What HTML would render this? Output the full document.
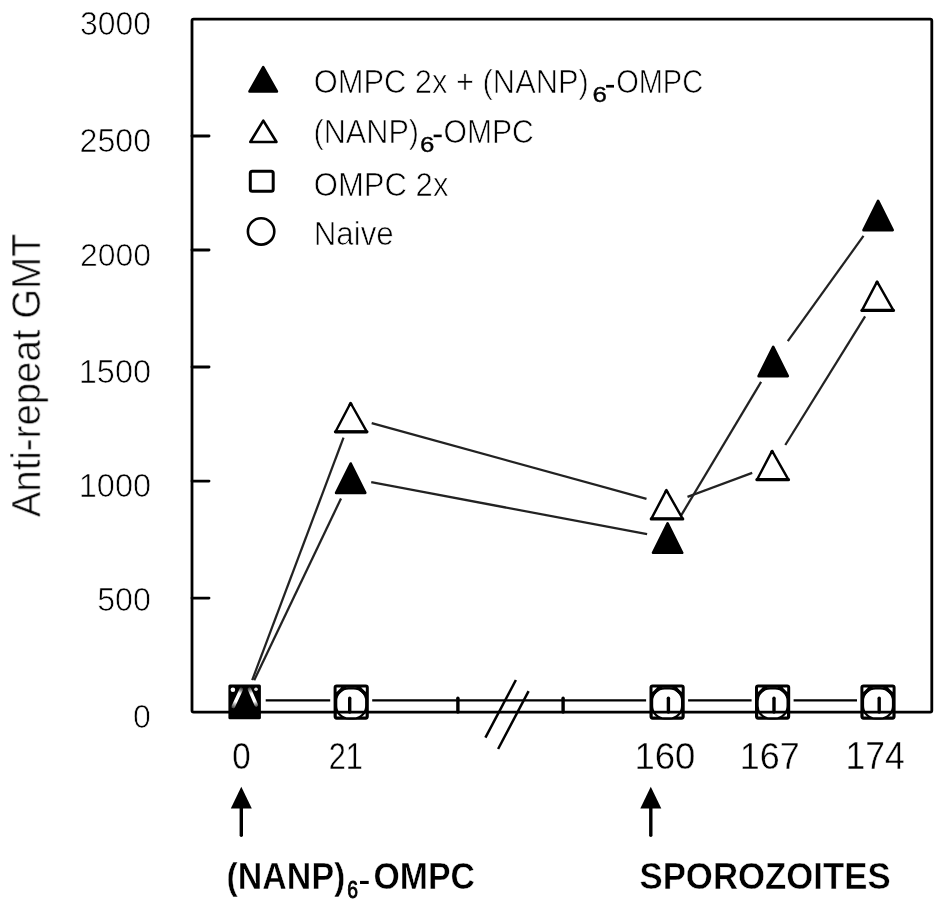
<!DOCTYPE html>
<html><head><meta charset="utf-8"><title>Anti-repeat GMT</title>
<style>html,body{margin:0;padding:0;background:#fff;}body{width:945px;height:910px;overflow:hidden;font-family:"Liberation Sans",sans-serif;}svg{display:block;}</style>
</head><body><svg width="945" height="910" viewBox="0 0 945 910" font-family="Liberation Sans, sans-serif"><defs><filter id="bl" x="-50%" y="-50%" width="200%" height="200%"><feGaussianBlur stdDeviation="0.5"/></filter><filter id="soft" x="0" y="0" width="945" height="910" filterUnits="userSpaceOnUse"><feGaussianBlur stdDeviation="0.45"/></filter></defs><rect width="945" height="910" fill="#fff"/><g filter="url(#soft)"><g stroke="#000" stroke-width="2.25" stroke-linecap="butt" fill="none"><line x1="254.2" y1="680.2" x2="341.0" y2="498.5" stroke="#222"/><line x1="371.2" y1="482.1" x2="647.1" y2="534.2" stroke="#222"/><line x1="679.7" y1="517.8" x2="761.1" y2="381.8" stroke="#222"/><line x1="787.8" y1="341.2" x2="863.5" y2="235.8" stroke="#222"/><line x1="252.2" y1="680.2" x2="343.5" y2="437.7" stroke="#222"/><line x1="371.7" y1="423.1" x2="646.5" y2="498.8" stroke="#222"/><line x1="687.5" y1="496.9" x2="752.2" y2="472.9" stroke="#222"/><line x1="785.3" y1="445.0" x2="865.1" y2="316.3" stroke="#222"/><line x1="265.7" y1="700.4" x2="330.2" y2="700.4"/><line x1="372.2" y1="700.4" x2="646.1" y2="700.4"/><line x1="688.1" y1="700.4" x2="751.6" y2="700.4"/><line x1="793.6" y1="700.4" x2="857.0" y2="700.4"/></g><rect x="335.2" y="686.1" width="32.0" height="32.0" rx="1.5" fill="#fff" stroke="#000" stroke-width="3.2"/><rect x="336.2" y="688.4" width="30.0" height="30.0" rx="12.5" fill="#fff" stroke="#000" stroke-width="2.2"/><path d="M336.0 686.9h10.5l-10.5 10.5Z M366.4 686.9h-10.5l10.5 10.5Z" fill="#000"/><path d="M336.6 687.5h4.6l-4.6 4.6Z M365.8 687.5h-4.6l4.6 4.6Z" fill="#fff" filter="url(#bl)"/><rect x="651.1" y="686.1" width="32.0" height="32.0" rx="1.5" fill="#fff" stroke="#000" stroke-width="3.2"/><rect x="652.1" y="688.4" width="30.0" height="30.0" rx="12.5" fill="#fff" stroke="#000" stroke-width="2.2"/><path d="M651.9 686.9h10.5l-10.5 10.5Z M682.3 686.9h-10.5l10.5 10.5Z" fill="#000"/><path d="M652.5 687.5h4.6l-4.6 4.6Z M681.7 687.5h-4.6l4.6 4.6Z" fill="#fff" filter="url(#bl)"/><rect x="756.6" y="686.1" width="32.0" height="32.0" rx="1.5" fill="#fff" stroke="#000" stroke-width="3.2"/><rect x="757.6" y="688.4" width="30.0" height="30.0" rx="12.5" fill="#fff" stroke="#000" stroke-width="2.2"/><path d="M757.4 686.9h10.5l-10.5 10.5Z M787.8 686.9h-10.5l10.5 10.5Z" fill="#000"/><path d="M758.0 687.5h4.6l-4.6 4.6Z M787.2 687.5h-4.6l4.6 4.6Z" fill="#fff" filter="url(#bl)"/><rect x="862.0" y="686.1" width="32.0" height="32.0" rx="1.5" fill="#fff" stroke="#000" stroke-width="3.2"/><rect x="863.0" y="688.4" width="30.0" height="30.0" rx="12.5" fill="#fff" stroke="#000" stroke-width="2.2"/><path d="M862.8 686.9h10.5l-10.5 10.5Z M893.2 686.9h-10.5l10.5 10.5Z" fill="#000"/><path d="M863.4 687.5h4.6l-4.6 4.6Z M892.6 687.5h-4.6l4.6 4.6Z" fill="#fff" filter="url(#bl)"/><path d="M350.6 403.0L366.9 431.8L335.5 431.8Z" fill="#fff" stroke="#000" stroke-width="2.4" stroke-linejoin="round"/><line x1="335.5" y1="431.8" x2="366.9" y2="431.8" stroke="#000" stroke-width="3.3" stroke-linecap="round"/><circle cx="350.6" cy="404.2" r="1.9" fill="#000"/><path d="M350.7 463.5L365.3 492.9L336.1 492.9Z" fill="#000" stroke="#000" stroke-width="2.6" stroke-linejoin="round"/><path d="M666.4 490.1L682.7 518.9L651.3 518.9Z" fill="#fff" stroke="#000" stroke-width="2.4" stroke-linejoin="round"/><line x1="651.3" y1="518.9" x2="682.7" y2="518.9" stroke="#000" stroke-width="3.3" stroke-linecap="round"/><circle cx="666.4" cy="491.3" r="1.9" fill="#000"/><path d="M667.6 523.4L682.2 552.8L653.0 552.8Z" fill="#000" stroke="#000" stroke-width="2.6" stroke-linejoin="round"/><path d="M772.1 450.9L788.4 479.7L757.0 479.7Z" fill="#fff" stroke="#000" stroke-width="2.4" stroke-linejoin="round"/><line x1="757.0" y1="479.7" x2="788.4" y2="479.7" stroke="#000" stroke-width="3.3" stroke-linecap="round"/><circle cx="772.1" cy="452.1" r="1.9" fill="#000"/><path d="M773.2 346.8L787.8 376.2L758.6 376.2Z" fill="#000" stroke="#000" stroke-width="2.6" stroke-linejoin="round"/><path d="M877.1 281.6L893.4 310.4L862.0 310.4Z" fill="#fff" stroke="#000" stroke-width="2.4" stroke-linejoin="round"/><line x1="862.0" y1="310.4" x2="893.4" y2="310.4" stroke="#000" stroke-width="3.3" stroke-linecap="round"/><circle cx="877.1" cy="282.8" r="1.9" fill="#000"/><path d="M878.1 200.8L892.7 230.2L863.5 230.2Z" fill="#000" stroke="#000" stroke-width="2.6" stroke-linejoin="round"/><rect x="228.4" y="684.6" width="32.5" height="34.6" rx="1.5" fill="#000"/><defs><linearGradient id="g1" gradientUnits="userSpaceOnUse" x1="241.6" y1="688.6" x2="232.8" y2="707.2"><stop offset="0" stop-color="#444"/><stop offset="0.25" stop-color="#fff"/><stop offset="0.7" stop-color="#fff"/><stop offset="1" stop-color="#555"/></linearGradient><linearGradient id="g2" gradientUnits="userSpaceOnUse" x1="249.2" y1="688.6" x2="256.6" y2="705.6"><stop offset="0" stop-color="#555"/><stop offset="0.3" stop-color="#fff"/><stop offset="0.75" stop-color="#fff"/><stop offset="1" stop-color="#666"/></linearGradient></defs><g fill="#fff" filter="url(#bl)"><circle cx="232.9" cy="689.7" r="2.3"/><circle cx="256.0" cy="689.2" r="1.8" fill="#ddd"/><path d="M241.2 689.4 L233.3 706.4" stroke="url(#g1)" stroke-width="3.6" stroke-linecap="round"/><path d="M249.5 689.4 L256.2 704.8" stroke="url(#g2)" stroke-width="3.6" stroke-linecap="round"/></g><rect x="192" y="19.05" width="739.8" height="693.1" rx="1.6" fill="none" stroke="#000" stroke-width="2.8"/><line x1="192" y1="136.0" x2="209.0" y2="136.0" stroke="#000" stroke-width="2.9" stroke-linecap="round"/><line x1="192" y1="250.05" x2="209.0" y2="250.05" stroke="#000" stroke-width="2.9" stroke-linecap="round"/><line x1="192" y1="367.0" x2="209.0" y2="367.0" stroke="#000" stroke-width="2.9" stroke-linecap="round"/><line x1="192" y1="481.1" x2="209.0" y2="481.1" stroke="#000" stroke-width="2.9" stroke-linecap="round"/><line x1="192" y1="598.1" x2="209.0" y2="598.1" stroke="#000" stroke-width="2.9" stroke-linecap="round"/><line x1="349.7" y1="712.1" x2="349.7" y2="698.2" stroke="#000" stroke-width="3.4" stroke-linecap="round"/><line x1="457.9" y1="712.1" x2="457.9" y2="698.2" stroke="#000" stroke-width="3.4" stroke-linecap="round"/><line x1="563.1" y1="712.1" x2="563.1" y2="698.2" stroke="#000" stroke-width="3.4" stroke-linecap="round"/><line x1="668.4" y1="712.1" x2="668.4" y2="698.2" stroke="#000" stroke-width="3.4" stroke-linecap="round"/><line x1="774.0" y1="712.1" x2="774.0" y2="698.2" stroke="#000" stroke-width="3.4" stroke-linecap="round"/><line x1="879.2" y1="712.1" x2="879.2" y2="698.2" stroke="#000" stroke-width="3.4" stroke-linecap="round"/><line x1="485.4" y1="737.6" x2="515.9" y2="680" stroke="#000" stroke-width="2.5"/><line x1="498.1" y1="749" x2="528.6" y2="691.1" stroke="#000" stroke-width="2.5"/><path d="M263.2 67.1L276.9 91.5L249.5 91.5Z" fill="#000" stroke="#000" stroke-width="2.6" stroke-linejoin="round"/><path d="M263.3 120.6L276.5 142L250.3 142Z" fill="none" stroke="#000" stroke-width="2.6" stroke-linejoin="round"/><rect x="250.3" y="171.3" width="22.9" height="19.9" rx="2" fill="none" stroke="#000" stroke-width="3"/><circle cx="261.1" cy="231.4" r="13.2" fill="none" stroke="#000" stroke-width="2.6"/><g stroke="#fff" stroke-width="0.7"><text transform="translate(133.02,727.88) scale(0.9904,1)" font-size="32.39">0</text><text transform="translate(97.21,611.16) scale(0.9606,1)" font-size="33.52">500</text><text transform="translate(78.75,496.87) scale(0.9751,1)" font-size="33.38">1000</text><text transform="translate(78.75,382.67) scale(0.9918,1)" font-size="32.82">1500</text><text transform="translate(80.00,265.58) scale(0.9913,1)" font-size="32.25">2000</text><text transform="translate(79.59,151.86) scale(0.9435,1)" font-size="34.08">2500</text><text transform="translate(80.07,34.77) scale(0.9609,1)" font-size="33.24">3000</text><text transform="translate(232.18,769.03) scale(0.8942,1)" font-size="37.04" stroke-width="0.4">0</text><text transform="translate(328.77,769.40) scale(0.8169,1)" font-size="37.57" stroke-width="0.4">21</text><text transform="translate(634.48,769.03) scale(0.9858,1)" font-size="37.04" stroke-width="0.4">160</text><text transform="translate(739.73,769.03) scale(0.9694,1)" font-size="37.04" stroke-width="0.4">167</text><text transform="translate(845.46,769.40) scale(0.9300,1)" font-size="38.12" stroke-width="0.4">174</text><text transform="translate(313.66,93.00) scale(0.9385,1)" font-size="32.90">OMPC 2x + (NANP)</text><text transform="translate(592.61,102.49) scale(1.2164,1)" font-size="21.27" stroke="#000" stroke-width="0.35">6</text><text transform="translate(616.15,93.00) scale(0.8816,1)" font-size="32.90">OMPC</text><text transform="translate(313.56,143.00) scale(0.9150,1)" font-size="33.48">(NANP)</text><text transform="translate(420.01,152.19) scale(1.2164,1)" font-size="21.27" stroke="#000" stroke-width="0.35">6</text><text transform="translate(443.49,143.00) scale(0.9002,1)" font-size="33.48">OMPC</text><text transform="translate(313.85,195.80) scale(0.9276,1)" font-size="33.48">OMPC 2x</text><text transform="translate(313.69,245.30) scale(0.9477,1)" font-size="33.04">Naive</text><text transform="translate(226.50,889.00) scale(0.9228,1)" font-size="36.81" font-weight="bold" stroke-width="0.45">(NANP)</text><text transform="translate(347.13,897.86) scale(0.7940,1)" font-size="24.37" stroke="#000" stroke-width="0.9">6</text><text transform="translate(373.55,889.00) scale(0.9063,1)" font-size="37.32" font-weight="bold" stroke-width="0.45">OMPC</text><text transform="translate(639.46,889.30) scale(0.9213,1)" font-size="37.75" font-weight="bold" stroke-width="0.45">SPOROZOITES</text><text transform="translate(40.19,517.30) rotate(-90) scale(0.9369,1)" font-size="40.99">Anti-repeat GMT</text></g><rect x="360" y="880.9" width="8.7" height="3.1" fill="#000"/><rect x="606.1" y="84.9" width="7.9" height="2.7" fill="#000"/><rect x="433.6" y="134.6" width="8.1" height="2.6" fill="#000"/><path d="M241.3 786.8 L251.8 808.4 L230.8 808.4 Z" fill="#000"/><line x1="241.3" y1="806" x2="241.3" y2="835.2" stroke="#000" stroke-width="3.4" stroke-linecap="round"/><path d="M650.8 786.8 L661.3 808.4 L640.3 808.4 Z" fill="#000"/><line x1="650.8" y1="806" x2="650.8" y2="835.2" stroke="#000" stroke-width="3.4" stroke-linecap="round"/></g></svg></body></html>
